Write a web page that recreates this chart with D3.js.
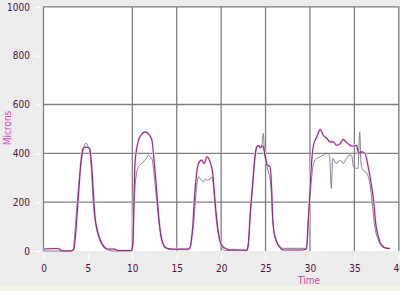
<!DOCTYPE html>
<meta charset="utf-8">
<script src="https://d3js.org/d3.v7.min.js"></script>
<style>
  body { margin: 0; background: #ececec; }
  svg { display: block; }
  .tick text { font-family: 'Liberation Sans Narrow', 'DejaVu Sans Condensed', sans-serif; font-size: 10px; fill: #52123f; }
</style>
<div id="my_dataviz"></div>
<script>

// axis values
var xMajor = [0, 5, 10, 15, 20, 25, 30, 35, 40];
var yMajor = [0, 200, 400, 600, 800, 1000];
var xGrid = [10, 15, 20, 25, 30, 35];
var yGrid = [200, 400, 600];

// purple trace (time, microns)
var purpleTime = [0, 1.5, 1.8, 2.0, 3.0, 3.4, 3.6, 3.8, 4.0, 4.2, 4.4, 4.6, 4.9, 5.2, 5.4, 5.6, 5.8, 6.0, 6.3, 6.6, 7.0, 7.3, 8.0, 8.3, 9.0, 9.9,
  10.05, 10.3, 10.7, 11.0, 11.45, 11.8, 12.2, 12.4, 12.6, 12.8, 13.0, 13.2, 13.45, 13.8, 14.5, 16.3,
  16.5, 16.8, 17.0, 17.25, 17.45, 17.8, 18.1, 18.4, 18.75, 19.05, 19.3, 19.6, 19.9, 20.2, 20.45, 21, 22.9,
  23.05, 23.3, 23.55, 23.8, 24.0, 24.2, 24.4, 24.7, 24.9, 25.2, 25.5, 25.7, 25.8, 25.95, 26.25, 26.6, 27, 29, 29.6,
  29.8, 30.0, 30.2, 30.4, 30.8, 31.15, 31.5, 31.9, 32.25, 32.6, 33.0, 33.4, 33.75, 34.05, 34.5, 34.9, 35.25, 35.45,
  35.8, 36.2, 36.55, 36.95, 37.2, 37.4, 37.7, 38.05, 38.6, 39];
var purpleVals = [8, 10, 8, 1, 0, 5, 60, 160, 260, 360, 415, 425, 425, 420, 360, 250, 140, 95, 55, 30, 12, 8, 8, 3, 2, 2,
  20, 360, 454, 475, 488, 480, 454, 390, 310, 220, 130, 65, 30, 12, 8, 8,
  15, 100, 220, 320, 358, 372, 358, 386, 365, 318, 209, 99, 38, 18, 11, 5, 3,
  25, 165, 275, 385, 425, 432, 425, 430, 400, 352, 345, 243, 134, 79, 38, 15, 4, 4, 8,
  110, 250, 372, 433, 470, 498, 474, 461, 447, 447, 433, 440, 457, 447, 433, 429, 433, 400,
  406, 400, 345, 263, 195, 113, 58, 25, 11, 10];

// grey trace (time, microns)
var greyTime = [0, 3.0, 3.3, 3.5, 3.75, 4.1, 4.4, 4.6, 4.8, 5.0, 5.25, 5.45, 5.6, 5.8, 6.0, 6.2, 6.4, 6.75, 7.2, 7.5, 8, 9.8,
  10.0, 10.2, 10.4, 10.7, 10.9, 11.1, 11.4, 11.6, 11.8, 12.0, 12.2, 12.4, 12.6, 12.8, 13.0, 13.2, 13.4, 13.7, 14.0, 14.5, 16.3,
  16.5, 16.7, 16.9, 17.05, 17.2, 17.45, 17.6, 17.8, 18.0, 18.2, 18.4, 18.6, 18.75, 18.95, 19.1, 19.25, 19.4, 19.6, 19.8, 20.0, 20.2, 20.5, 22.9,
  23.05, 23.3, 23.55, 23.8, 24.0, 24.2, 24.4, 24.6, 24.75, 24.85, 24.95, 25.1, 25.3, 25.5, 25.65, 25.8, 25.95, 26.25, 26.6, 27, 29.6,
  29.8, 30.0, 30.2, 30.4, 30.75, 31.15, 31.5, 31.9, 32.2, 32.4, 32.55, 33.0, 33.4, 33.75, 34.1, 34.5, 34.7, 34.9, 35.1, 35.4,
  35.6, 35.75, 36.0, 36.4, 36.8, 37.05, 37.3, 37.7, 38.25, 39];
var greyVals = [0, 0, 2, 60, 180, 320, 400, 430, 443, 430, 400, 300, 196, 130, 86, 58, 38, 16, 5, 2, 0, 0,
  20, 200, 300, 345, 352, 360, 372, 380, 392, 385, 380, 330, 260, 190, 120, 70, 38, 18, 8, 6, 5,
  12, 60, 113, 180, 250, 304, 298, 290, 283, 295, 290, 292, 293, 304, 280, 220, 150, 90, 50, 25, 8, 2, 3,
  25, 160, 270, 380, 427, 430, 420, 440, 481, 420, 386, 360, 324, 300, 240, 134, 79, 38, 18, 11, 11,
  127, 222, 304, 358, 379, 386, 393, 400, 390, 256, 379, 358, 372, 358, 379, 393, 390, 345, 340, 338,
  488, 358, 331, 318, 263, 181, 99, 45, 15, 11];

var W = 400, H = 291;

var svg = d3.select("#my_dataviz")
  .append("svg")
    .attr("width", W)
    .attr("height", H);

var x = d3.scaleLinear().domain([0, 40]).range([43.5, 398.8]);
var y = d3.scaleLinear().domain([0, 1000]).range([251, 6.8]);

// bottom strip
svg.append("rect")
  .attr("x", 0).attr("y", 286).attr("width", W).attr("height", 5)
  .attr("fill", "#f3f2e8");

// plot area
svg.append("rect")
  .attr("x", x(0)).attr("y", y(1000))
  .attr("width", x(40) - x(0)).attr("height", y(0) - y(1000))
  .attr("fill", "#ffffff");

// grid lines
svg.append("g").selectAll("line").data(xGrid).enter().append("line")
  .attr("x1", function(d) { return x(d); }).attr("x2", function(d) { return x(d); })
  .attr("y1", y(1000)).attr("y2", y(0))
  .attr("stroke", "#7f7f7f").attr("stroke-width", 1.3);
svg.append("g").selectAll("line").data(yGrid).enter().append("line")
  .attr("x1", x(0)).attr("x2", x(40))
  .attr("y1", function(d) { return y(d); }).attr("y2", function(d) { return y(d); })
  .attr("stroke", "#7f7f7f").attr("stroke-width", 1.3);

// border: left, top, right
svg.append("path")
  .attr("d", "M" + x(0) + "," + y(0) + "V" + y(1000) + "H" + x(40) + "V" + y(0))
  .attr("fill", "none").attr("stroke", "#7f7f7f").attr("stroke-width", 1.3);

// axes
var yAxisG = svg.append("g").attr("transform", "translate(40,0)");
yAxisG.call(d3.axisLeft(y).tickValues(d3.range(0, 1001, 40)).tickSize(2).tickFormat(""));
yAxisG.call(d3.axisLeft(y).tickValues(yMajor).tickSize(5).tickPadding(5).tickFormat(d3.format("d")));
yAxisG.selectAll(".domain").remove();
yAxisG.selectAll("line").attr("stroke", "#ffffff");

var xAxisG = svg.append("g").attr("transform", "translate(0,254)");
xAxisG.call(d3.axisBottom(x).tickValues(d3.range(0, 41, 1)).tickSize(3).tickFormat(""));
xAxisG.call(d3.axisBottom(x).tickValues(xMajor).tickSize(6).tickPadding(5).tickFormat(d3.format("d")));
xAxisG.selectAll(".domain").remove();
xAxisG.selectAll("line").attr("stroke", "#ffffff");

// axis titles
svg.append("text")
  .attr("x", 309).attr("y", 284)
  .attr("text-anchor", "middle")
  .style("font-family", "'Liberation Sans Narrow', 'DejaVu Sans Condensed', sans-serif")
  .style("font-size", "10px")
  .attr("fill", "#d8459f")
  .text("Time");

svg.append("text")
  .attr("transform", "translate(11,128) rotate(-90)")
  .attr("text-anchor", "middle")
  .style("font-family", "'Liberation Sans Narrow', 'DejaVu Sans Condensed', sans-serif")
  .style("font-size", "10px")
  .attr("fill", "#e048c8")
  .text("Microns");

// traces
var purple = purpleTime.map(function(t, i) { return [t, purpleVals[i]]; });
var grey = greyTime.map(function(t, i) { return [t, greyVals[i]]; });

var line = d3.line()
  .x(function(d) { return x(d[0]); })
  .y(function(d) { return y(d[1]); })
  .curve(d3.curveMonotoneX);

svg.append("path").datum(purple)
  .attr("d", line).attr("fill", "none")
  .attr("stroke", "#fadcf4").attr("stroke-width", 2.6);
svg.append("path").datum(grey)
  .attr("d", line).attr("fill", "none")
  .attr("stroke", "#7f7f94").attr("stroke-width", 1);
svg.append("path").datum(purple)
  .attr("d", line).attr("fill", "none")
  .attr("stroke", "#8e2a72").attr("stroke-width", 1.1);

</script>
